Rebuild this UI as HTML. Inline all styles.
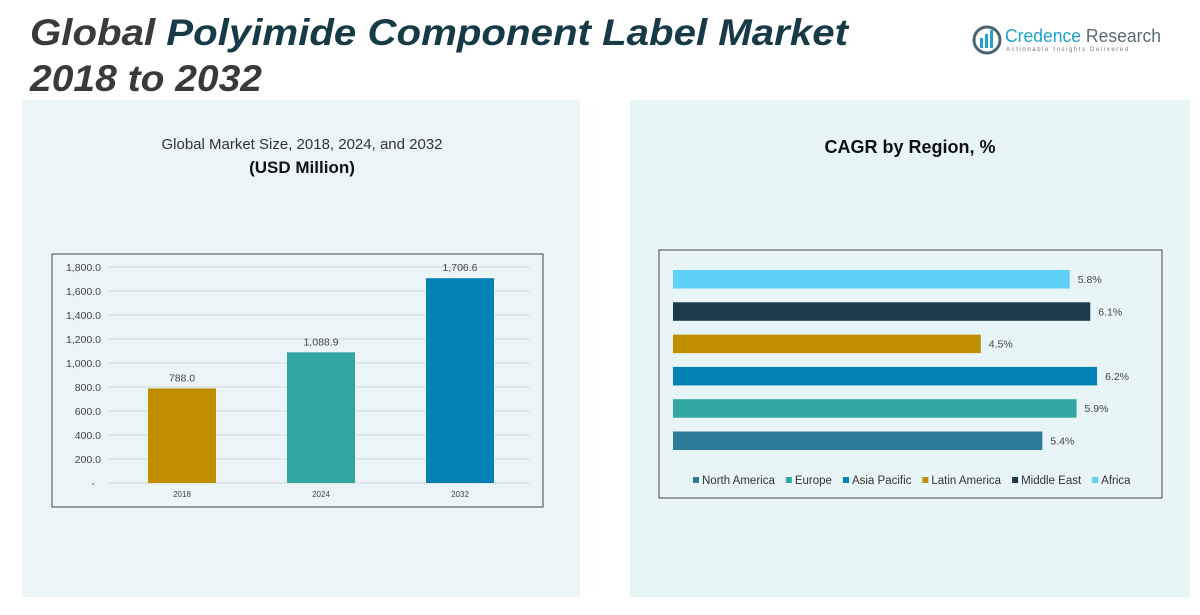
<!DOCTYPE html>
<html><head><meta charset="utf-8"><style>
html,body{margin:0;padding:0;background:#fff;}
svg{display:block;font-family:"Liberation Sans",sans-serif;}
</style></head><body>
<svg id="root" width="1200" height="615" viewBox="0 0 1200 615">
  <rect x="0" y="0" width="1200" height="615" fill="#ffffff"/>
  <rect x="22" y="100" width="558" height="497" fill="#ebf4f7"/>
  <rect x="630" y="100" width="560" height="497" fill="#e8f5f6"/>
  <g font-weight="bold" font-style="italic" font-size="37">
    <text x="30" y="45" textLength="818" lengthAdjust="spacingAndGlyphs"><tspan fill="#3a3a3a">Global </tspan><tspan fill="#173a47">Polyimide Component Label Market</tspan></text>
    <text x="30" y="91" fill="#3a3a3a" textLength="232" lengthAdjust="spacingAndGlyphs">2018 to 2032</text>
  </g>
  <g>
    <circle cx="987" cy="40" r="13" fill="none" stroke="#4a6470" stroke-width="3"/>
    <rect x="980" y="38" width="3" height="10" fill="#1fa3c8"/>
    <rect x="985" y="34" width="3" height="14" fill="#1fa3c8"/>
    <rect x="990" y="30" width="3" height="18" fill="#1fa3c8"/>
    <text x="1005" y="42" font-size="18" fill="#1fa3c8" textLength="156" lengthAdjust="spacingAndGlyphs">Credence <tspan fill="#5a6a72">Research</tspan></text>
    <text x="1006" y="51" font-size="6" fill="#777" letter-spacing="1.6">Actionable Insights Delivered</text>
  </g>
  <text x="302" y="149" text-anchor="middle" font-size="15" fill="#333">Global Market Size, 2018, 2024, and 2032</text>
  <text x="302" y="173" text-anchor="middle" font-size="17" font-weight="bold" fill="#111">(USD Million)</text>
  <text x="910" y="153" text-anchor="middle" font-size="18" font-weight="bold" fill="#111">CAGR by Region, %</text>
  <rect x="52" y="254" width="491" height="253" fill="none" stroke="#444" stroke-width="1"/>
  <rect x="659" y="250" width="503" height="248" fill="none" stroke="#444" stroke-width="1"/>
  <g id="left"></g>
  <g id="right"></g>
</svg>
<script>
const years = ["2018","2024","2032"];
const marketValues = [788.0, 1088.9, 1706.6];
const valueLabels = ["788.0","1,088.9","1,706.6"];
const yTicks = [0,200,400,600,800,1000,1200,1400,1600,1800];
const yTickLabels = ["-","200.0","400.0","600.0","800.0","1,000.0","1,200.0","1,400.0","1,600.0","1,800.0"];
const barColors = ["#bf8f00","#33a6a3","#0380b4"];

const regions = ["Africa","Middle East","Latin America","Asia Pacific","Europe","North America"];
const cagrValues = [5.8, 6.1, 4.5, 6.2, 5.9, 5.4];
const cagrLabels = ["5.8%","6.1%","4.5%","6.2%","5.9%","5.4%"];
const regionColors = ["#5fd0f7","#1a3a4a","#bf8f00","#0380b4","#33a6a3","#2e7a99"];
const legendOrder = ["North America","Europe","Asia Pacific","Latin America","Middle East","Africa"];

const NS = "http://www.w3.org/2000/svg";
function mk(tag, attrs, parent){const e=document.createElementNS(NS,tag);for(const k in attrs)e.setAttribute(k,attrs[k]);parent.appendChild(e);return e;}

// left chart
const L = document.getElementById('left');
const y0 = 483, yTop = 267, yMax = 1800;
const yS = v => y0 - (v / yMax) * (y0 - yTop);
const xC = i => 182 + i * 139;
yTicks.forEach((t,i)=>{
  const g = mk('line',{x1:108,x2:530,y1:yS(t),y2:yS(t),stroke:'#d0d8dc','stroke-width':1},L);
  
  
  const tx = mk('text',{x:i===0?95:101,y:yS(t)+4,'text-anchor':'end','font-size':10.5,fill:'#444'},L);
  tx.textContent = yTickLabels[i];
  
  
});
years.forEach((yr,i)=>{
  const r = mk('rect',{x:xC(i)-34,y:yS(marketValues[i]),width:68,height:y0-yS(marketValues[i]),fill:barColors[i]},L);
  
  
  const v = mk('text',{x:xC(i),y:yS(marketValues[i])-7,'text-anchor':'middle','font-size':10.5,fill:'#444'},L);
  v.textContent = valueLabels[i];
  
  
  const xl = mk('text',{x:xC(i),y:497,'text-anchor':'middle','font-size':8,fill:'#444'},L);
  xl.textContent = yr;
  
  
});

// right chart
const R = document.getElementById('right');
const xs0 = 673, pxPer = 68.4;
const xR = v => xs0 + v * pxPer;
regions.forEach((rg,i)=>{
  const top = 270 + i * 32.3;
  const r = mk('rect',{x:xs0,y:top,width:xR(cagrValues[i])-xs0,height:18.5,fill:regionColors[i]},R);
  
  
  const t = mk('text',{x:xR(cagrValues[i])+8,y:top+13,'font-size':10.5,fill:'#444'},R);
  t.textContent = cagrLabels[i];
  
  
});
let lx = 693;
legendOrder.forEach(name=>{
  const c = regionColors[regions.indexOf(name)];
  const g = mk('g',{},R);
  
  
  mk('rect',{x:lx,y:477,width:6,height:6,fill:c},g);
  const t = mk('text',{x:lx+9,y:484,'font-size':11.5,fill:'#333'},g);
  t.textContent = name;
  lx += 9 + t.getComputedTextLength() + 11;
});
</script>
</body></html>
